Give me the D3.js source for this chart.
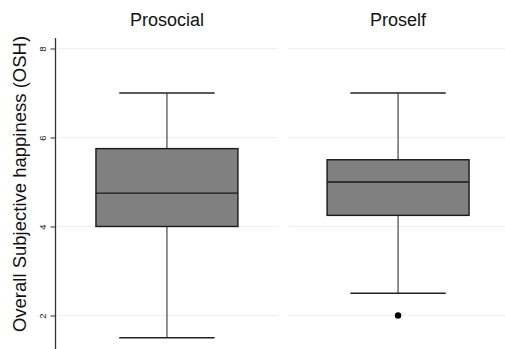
<!DOCTYPE html>
<html>
<head>
<meta charset="utf-8">
<script src="https://cdn.jsdelivr.net/npm/d3@7/dist/d3.min.js"></script>
<style>
  html, body { margin: 0; padding: 0; background: #fff; }
  svg { display: block; font-family: "Liberation Sans", Arial, sans-serif; }
</style>
</head>
<body>
<svg id="chart" width="505" height="349"></svg>
<script>
// Group panels
const groups = ["Prosocial", "Proself"];
// Box-plot summaries per group
const whiskerLow  = [1.5, 2.5];
const quartile1   = [4.0, 4.25];
const medians     = [4.75, 5.0];
const quartile3   = [5.75, 5.5];
const whiskerHigh = [7.0, 7.0];
// Outside values (group index, value)
const outlierGroup = [1];
const outlierValue = [2.0];
// Y axis ticks
const yTicks = [2, 4, 6, 8];

const svg = d3.select("#chart");

const y = d3.scaleLinear().domain([2, 8]).range([315.5, 48.5]);

// Each panel: left edge and width
const panelX = d3.scaleBand().domain(groups).range([56, 509]).paddingInner(0.04);
const bw = panelX.bandwidth();
const boxW = bw * 0.64;
const capW = bw * 0.43;

// Gridlines per panel
groups.forEach(g => {
  svg.append("g").selectAll("line")
    .data(yTicks)
    .join("line")
    .attr("x1", panelX(g) + 1)
    .attr("x2", panelX(g) + bw)
    .attr("y1", d => y(d))
    .attr("y2", d => y(d))
    .attr("stroke", "#eaf2f2")
    .attr("stroke-width", 1.2);
});

// Panel titles
svg.append("g").selectAll("text")
  .data(groups)
  .join("text")
  .attr("x", d => panelX(d) + bw / 2)
  .attr("y", 25.5)
  .attr("text-anchor", "middle")
  .attr("font-size", 18)
  .attr("fill", "#111")
  .text(d => d);

// Y axis
const yAxis = d3.axisLeft(y).tickValues(yTicks).tickSize(5).tickPadding(4).tickFormat(d3.format("d"));
const ax = svg.append("g").attr("transform", "translate(55.5,0)").call(yAxis);
ax.select(".domain").remove();
ax.append("line").attr("x1", 0).attr("x2", 0).attr("y1", 38).attr("y2", 349)
  .attr("stroke", "#333").attr("stroke-width", 1.3);
ax.selectAll(".tick line").attr("stroke", "#333").attr("stroke-width", 1);
ax.selectAll(".tick text")
  .attr("font-size", 9.5)
  .attr("font-family", "Liberation Sans, Arial, sans-serif")
  .attr("fill", "#222")
  .attr("x", null).attr("dy", null)
  .attr("text-anchor", "middle")
  .attr("transform", "translate(-13,0) rotate(-90)")
  .attr("y", 3.5);

// Y axis title
svg.append("text")
  .attr("transform", "translate(25.5," + 184 + ") rotate(-90)")
  .attr("text-anchor", "middle")
  .attr("font-size", 18.5)
  .attr("fill", "#111")
  .text("Overall Subjective happiness (OSH)");

// Boxes
groups.forEach((g, i) => {
  const cx = panelX(g) + bw / 2;
  const gb = svg.append("g");
  // whisker stems
  gb.append("line").attr("x1", cx).attr("x2", cx)
    .attr("y1", y(whiskerHigh[i])).attr("y2", y(quartile3[i]))
    .attr("stroke", "#444").attr("stroke-width", 1.2);
  gb.append("line").attr("x1", cx).attr("x2", cx)
    .attr("y1", y(quartile1[i])).attr("y2", y(whiskerLow[i]))
    .attr("stroke", "#444").attr("stroke-width", 1.2);
  // caps
  [whiskerHigh[i], whiskerLow[i]].forEach(v => {
    gb.append("line").attr("x1", cx - capW / 2).attr("x2", cx + capW / 2)
      .attr("y1", y(v)).attr("y2", y(v))
      .attr("stroke", "#222").attr("stroke-width", 1.3);
  });
  // box
  gb.append("rect")
    .attr("x", cx - boxW / 2)
    .attr("y", y(quartile3[i]))
    .attr("width", boxW)
    .attr("height", y(quartile1[i]) - y(quartile3[i]))
    .attr("fill", "#808080")
    .attr("stroke", "#1a1a1a")
    .attr("stroke-width", 1.4);
  // median
  gb.append("line").attr("x1", cx - boxW / 2).attr("x2", cx + boxW / 2)
    .attr("y1", y(medians[i])).attr("y2", y(medians[i]))
    .attr("stroke", "#1a1a1a").attr("stroke-width", 1.4);
});

// Outside values
svg.append("g").selectAll("circle")
  .data(outlierValue.map((v, k) => ({ g: groups[outlierGroup[k]], v })))
  .join("circle")
  .attr("cx", d => panelX(d.g) + bw / 2)
  .attr("cy", d => y(d.v))
  .attr("r", 3.2)
  .attr("fill", "#000");
</script>
</body>
</html>
